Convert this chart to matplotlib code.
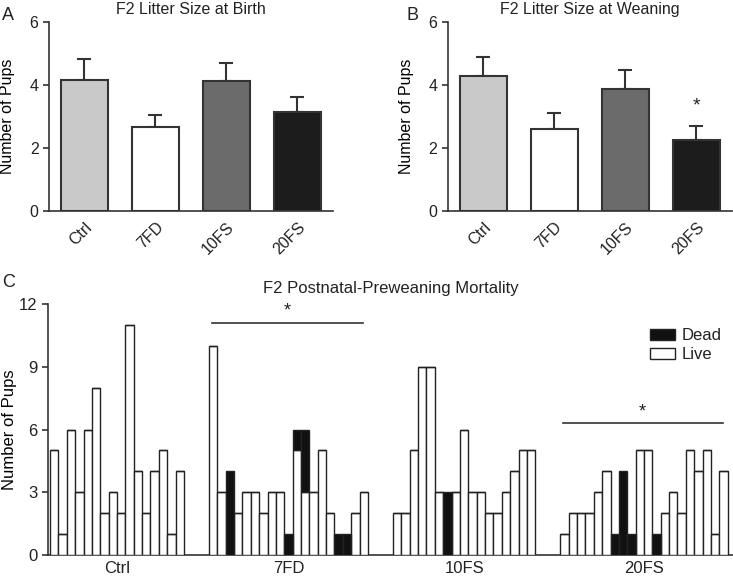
import numpy as np
from matplotlib import pyplot as plt
from matplotlib.patches import Patch

plt.rcParams['font.family'] = ['Liberation Sans', 'DejaVu Sans']
plt.rcParams['text.color'] = '#222222'
plt.rcParams['axes.edgecolor'] = '#333333'
plt.rcParams['xtick.color'] = '#333333'
plt.rcParams['ytick.color'] = '#333333'
plt.rcParams['xtick.labelcolor'] = '#222222'
plt.rcParams['ytick.labelcolor'] = '#222222'

# panels A / B
groups = ['Ctrl', '7FD', '10FS', '20FS']
bar_colors = ['#c9c9c9', '#ffffff', '#6b6b6b', '#1c1c1c']
birth_mean = [4.17, 2.68, 4.13, 3.14]
birth_sem = [0.67, 0.37, 0.56, 0.48]
wean_mean = [4.27, 2.62, 3.87, 2.26]
wean_sem = [0.61, 0.49, 0.60, 0.43]
wean_star_y = 3.35

# panel C, one bar per litter
ctrl_live = [5, 1, 6, 3, 6, 8, 2, 3, 2, 11, 4, 2, 4, 5, 1, 4]
ctrl_dead = [0] * 16
fd7_live = [10, 3, 0, 2, 3, 3, 2, 3, 3, 0, 5, 3, 3, 5, 2, 0, 0, 2, 3]
fd7_dead = [0, 0, 4, 0, 0, 0, 0, 0, 0, 1, 1, 3, 0, 0, 0, 1, 1, 0, 0]
fs10_live = [2, 2, 5, 9, 9, 3, 0, 3, 6, 3, 3, 2, 2, 3, 4, 5, 5]
fs10_dead = [0, 0, 0, 0, 0, 0, 3, 0, 0, 0, 0, 0, 0, 0, 0, 0, 0]
fs20_live = [1, 2, 2, 2, 3, 4, 0, 0, 0, 5, 5, 0, 2, 3, 2, 5, 4, 5, 1, 4]
fs20_dead = [0, 0, 0, 0, 0, 0, 1, 4, 1, 0, 0, 1, 0, 0, 0, 0, 0, 0, 0, 0]
sig_7fd_y = 11.1
sig_20fs_y = 6.3

fig = plt.figure(figsize=(7.33, 5.77), dpi=100)
axA = fig.add_axes([0.0668, 0.634, 0.3874, 0.328])
axB = fig.add_axes([0.611, 0.634, 0.3874, 0.328])
axC = fig.add_axes([0.0655, 0.038, 0.934, 0.435])


def litter_panel(ax, means, sems, title):
    x = np.arange(len(groups))
    ax.bar(x, means, width=0.66, color=bar_colors, edgecolor='#333333',
           linewidth=1.5, zorder=3)
    ax.errorbar(x, means, yerr=[np.zeros(len(sems)), sems], fmt='none',
                ecolor='#333333', elinewidth=1.5, capsize=4.7, capthick=1.5,
                zorder=2)
    ax.set_xlim(-0.5, 3.5)
    ax.set_ylim(0, 6)
    ax.set_yticks([0, 2, 4, 6])
    ax.set_xticks(x)
    ax.set_xticklabels(groups, rotation=45, ha='right',
                       rotation_mode='anchor', fontsize=11.5)
    ax.tick_params(axis='x', length=0, pad=6)
    ax.tick_params(axis='y', length=4, width=1.2, labelsize=11.5)
    for s in ['top', 'right']:
        ax.spines[s].set_visible(False)
    ax.spines['left'].set_linewidth(1.2)
    ax.spines['bottom'].set_linewidth(1.2)
    ax.set_ylabel('Number of Pups', fontsize=11.5)
    ax.yaxis.set_label_coords(-0.118, 0.5)
    ax.set_title(title, fontsize=11.5, pad=6)


litter_panel(axA, birth_mean, birth_sem, 'F2 Litter Size at Birth')
litter_panel(axB, wean_mean, wean_sem, 'F2 Litter Size at Weaning')
axB.text(3, wean_star_y, '*', ha='center', va='center', fontsize=14)

fig.text(0.003, 0.988, 'A', fontsize=13, va='top')
fig.text(0.555, 0.988, 'B', fontsize=13, va='top')
fig.text(0.003, 0.525, 'C', fontsize=13, va='top')

# panel C
lives = [ctrl_live, fd7_live, fs10_live, fs20_live]
deads = [ctrl_dead, fd7_dead, fs10_dead, fs20_dead]
gap = 3
start = 0
centers = []
spans = []
for live, dead in zip(lives, deads):
    n = len(live)
    xs = start + np.arange(n)
    axC.bar(xs, live, width=1.0, align='edge', color='white',
            edgecolor='#222222', linewidth=1.0, zorder=3)
    axC.bar(xs, dead, width=1.0, align='edge', bottom=live, color='#111111',
            edgecolor='#222222', linewidth=1.0, zorder=3)
    centers.append(start + n / 2)
    spans.append((start, start + n))
    start += n + gap

axC.set_xlim(-0.25, 81.6)
axC.set_ylim(0, 12)
axC.set_yticks([0, 3, 6, 9, 12])
axC.set_xticks(centers)
axC.set_xticklabels(groups, fontsize=12)
axC.tick_params(axis='x', length=0, pad=4)
axC.tick_params(axis='y', length=4, width=1.2, labelsize=12)
for s in ['top', 'right']:
    axC.spines[s].set_visible(False)
axC.spines['left'].set_linewidth(1.2)
axC.spines['bottom'].set_linewidth(1.2)
axC.set_ylabel('Number of Pups', fontsize=12)
axC.yaxis.set_label_coords(-0.046, 0.5)
axC.set_title('F2 Postnatal-Preweaning Mortality', fontsize=12, pad=8)

for (a, b), yy in [(spans[1], sig_7fd_y), (spans[3], sig_20fs_y)]:
    axC.plot([a + 0.3, b - 0.6], [yy, yy], color='#333333', lw=1.2)
    axC.text((a + b) / 2 - 0.2, yy + 0.15, '*', ha='center', va='bottom',
             fontsize=13)

handles = [Patch(facecolor='#111111', edgecolor='#222222', label='Dead'),
           Patch(facecolor='white', edgecolor='#222222', label='Live')]
axC.legend(handles=handles, loc='upper left', bbox_to_anchor=(0.87, 0.93),
           frameon=False, fontsize=12, handlelength=1.5, handleheight=0.6,
           handletextpad=0.4, labelspacing=0.25, borderaxespad=0)

fig.savefig('out.png', dpi=100)
